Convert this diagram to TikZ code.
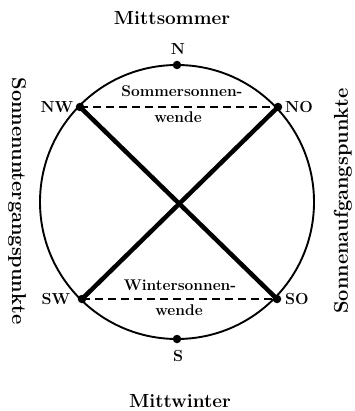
\documentclass[tikz,border=0pt]{standalone}
\usepackage{fontspec}
\begin{document}
\begin{tikzpicture}[x=1pt,y=-1pt,
  dot/.style={circle,fill=black,inner sep=0pt,minimum size=8.5pt},
  lbl/.style={font=\bfseries\fontsize{16}{16}\selectfont,inner sep=0pt},
  big/.style={font=\bfseries\fontsize{19}{19}\selectfont,inner sep=0pt},
  small/.style={font=\bfseries\fontsize{15.5}{15.5}\selectfont,inner sep=0pt},
  side/.style={font=\bfseries\fontsize{20}{20}\selectfont,inner sep=0pt},
  solst/.style={line width=4.5pt},
  eq/.style={line width=1.4pt,dash pattern=on 8pt off 5pt}]
\useasboundingbox (0,0) rectangle (354,411);
\coordinate (C) at (177,202);
\draw[line width=1.9pt] (C) circle (137);
\node[dot] (N) at (177,65) {};
\node[dot] (S) at (177,339) {};
\node[dot] (NW) at (80,107) {};
\node[dot] (NO) at (278,107) {};
\node[dot] (SW) at (82,299) {};
\node[dot] (SO) at (277,299) {};
\draw[solst] (NW.center) -- (SO.center);
\draw[solst] (NO.center) -- (SW.center);
\draw[eq] (NW.center) -- (NO.center);
\draw[eq] (SW.center) -- (SO.center);
\node[big] (ms) at (172,18) {Mittsommer};
\node[big] (mw) at (180,401) {Mittwinter};
\node[lbl] (lN) at (178,49) {N};
\node[lbl] (lS) at (178,356) {S};
\node[lbl] (lNW) at (57,107) {NW};
\node[lbl] (lNO) at (299,107) {NO};
\node[lbl] (lSW) at (56,299) {SW};
\node[lbl] (lSO) at (297,299) {SO};
\node[small] (ss1) at (182,91) {Sommersonnen-};
\node[small] (ss2) at (178,117) {wende};
\node[small] (ws1) at (180,285) {Wintersonnen-};
\node[small] (ws2) at (179,310) {wende};
\node[side,rotate=-90] (su) at (17,201) {Sonnenuntergangspunkte};
\node[side,rotate=90] (sa) at (343,201) {Sonnenaufgangspunkte};
\end{tikzpicture}
\end{document}
